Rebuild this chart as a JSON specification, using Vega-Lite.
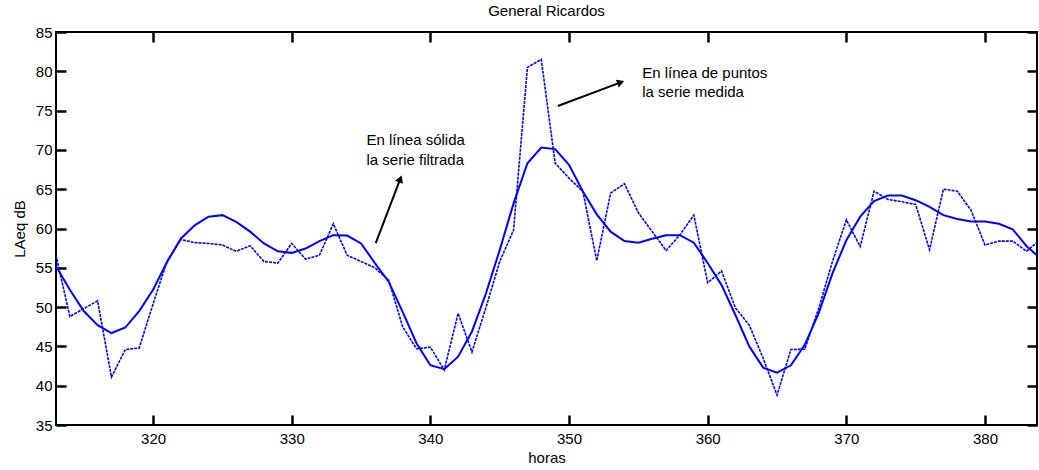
{
  "$schema": "https://vega.github.io/schema/vega-lite/v6.json",
  "width": 981,
  "height": 393,
  "autosize": {"type": "none"},
  "padding": {"left": 56, "top": 32, "right": 2, "bottom": 45},
  "background": "white",
  "title": {"text": "General Ricardos", "fontSize": 15, "fontWeight": "normal", "font": "Liberation Sans", "color": "black", "offset": 6},
  "config": {
    "font": "Liberation Sans",
    "view": {"stroke": "black", "strokeWidth": 2},
    "axis": {
      "domain": false,
      "grid": false,
      "labelFont": "Liberation Sans",
      "labelFontSize": 15,
      "labelColor": "black",
      "titleFont": "Liberation Sans",
      "titleFontSize": 15,
      "titleFontWeight": "normal",
      "titleColor": "black",
      "tickColor": "black",
      "tickWidth": 2.5,
      "tickSize": -10
    }
  },
  "datasets": {
    "series": [
      {"h": 313, "medida": 56.6, "filtrada": 55.2},
      {"h": 314, "medida": 48.8, "filtrada": 52.2},
      {"h": 315, "medida": 49.8, "filtrada": 49.5},
      {"h": 316, "medida": 50.8, "filtrada": 47.7},
      {"h": 317, "medida": 41.1, "filtrada": 46.7},
      {"h": 318, "medida": 44.6, "filtrada": 47.4},
      {"h": 319, "medida": 44.8, "filtrada": 49.5},
      {"h": 320, "medida": 50.4, "filtrada": 52.2},
      {"h": 321, "medida": 55.8, "filtrada": 55.7},
      {"h": 322, "medida": 58.6, "filtrada": 58.7},
      {"h": 323, "medida": 58.2, "filtrada": 60.4},
      {"h": 324, "medida": 58.1, "filtrada": 61.5},
      {"h": 325, "medida": 57.9, "filtrada": 61.7},
      {"h": 326, "medida": 57.1, "filtrada": 60.85},
      {"h": 327, "medida": 57.8, "filtrada": 59.6},
      {"h": 328, "medida": 55.8, "filtrada": 58.1},
      {"h": 329, "medida": 55.6, "filtrada": 57.1},
      {"h": 330, "medida": 58.1, "filtrada": 56.9},
      {"h": 331, "medida": 56.1, "filtrada": 57.45},
      {"h": 332, "medida": 56.6, "filtrada": 58.4},
      {"h": 333, "medida": 60.6, "filtrada": 59.15},
      {"h": 334, "medida": 56.6, "filtrada": 59.1},
      {"h": 335, "medida": 55.8, "filtrada": 58.1},
      {"h": 336, "medida": 55.0, "filtrada": 55.6},
      {"h": 337, "medida": 53.4, "filtrada": 53.2},
      {"h": 338, "medida": 47.5, "filtrada": 49.4},
      {"h": 339, "medida": 44.7, "filtrada": 45.4},
      {"h": 340, "medida": 44.9, "filtrada": 42.6},
      {"h": 341, "medida": 42.0, "filtrada": 42.1},
      {"h": 342, "medida": 49.2, "filtrada": 43.7},
      {"h": 343, "medida": 44.3, "filtrada": 46.9},
      {"h": 344, "medida": 49.9, "filtrada": 51.7},
      {"h": 345, "medida": 55.8, "filtrada": 57.25},
      {"h": 346, "medida": 59.8, "filtrada": 63.2},
      {"h": 347, "medida": 80.5, "filtrada": 68.3},
      {"h": 348, "medida": 81.5, "filtrada": 70.3},
      {"h": 349, "medida": 68.3, "filtrada": 70.1},
      {"h": 350, "medida": 66.4, "filtrada": 68.1},
      {"h": 351, "medida": 64.7, "filtrada": 64.7},
      {"h": 352, "medida": 55.9, "filtrada": 61.8},
      {"h": 353, "medida": 64.5, "filtrada": 59.6},
      {"h": 354, "medida": 65.7, "filtrada": 58.4},
      {"h": 355, "medida": 62.0, "filtrada": 58.2},
      {"h": 356, "medida": 59.6, "filtrada": 58.7},
      {"h": 357, "medida": 57.2, "filtrada": 59.15},
      {"h": 358, "medida": 59.2, "filtrada": 59.15},
      {"h": 359, "medida": 61.7, "filtrada": 58.2},
      {"h": 360, "medida": 53.1, "filtrada": 55.6},
      {"h": 361, "medida": 54.6, "filtrada": 52.8},
      {"h": 362, "medida": 49.9, "filtrada": 49.0},
      {"h": 363, "medida": 47.7, "filtrada": 45.0},
      {"h": 364, "medida": 43.5, "filtrada": 42.3},
      {"h": 365, "medida": 38.8, "filtrada": 41.65},
      {"h": 366, "medida": 44.6, "filtrada": 42.6},
      {"h": 367, "medida": 44.65, "filtrada": 45.2},
      {"h": 368, "medida": 49.8, "filtrada": 49.2},
      {"h": 369, "medida": 55.8, "filtrada": 54.3},
      {"h": 370, "medida": 61.1, "filtrada": 58.5},
      {"h": 371, "medida": 57.7, "filtrada": 61.5},
      {"h": 372, "medida": 64.75, "filtrada": 63.5},
      {"h": 373, "medida": 63.7, "filtrada": 64.2},
      {"h": 374, "medida": 63.4, "filtrada": 64.2},
      {"h": 375, "medida": 63.05, "filtrada": 63.6},
      {"h": 376, "medida": 57.3, "filtrada": 62.75},
      {"h": 377, "medida": 65.0, "filtrada": 61.7},
      {"h": 378, "medida": 64.75, "filtrada": 61.2},
      {"h": 379, "medida": 62.3, "filtrada": 60.9},
      {"h": 380, "medida": 57.9, "filtrada": 60.9},
      {"h": 381, "medida": 58.4, "filtrada": 60.6},
      {"h": 382, "medida": 58.4, "filtrada": 59.9},
      {"h": 383, "medida": 57.1, "filtrada": 57.75},
      {"h": 384, "medida": 58.6, "filtrada": 56.2}
    ],
    "labels": [
      {"x": 335.39, "y": 71.23, "t": "En línea sólida"},
      {"x": 335.39, "y": 68.69, "t": "la serie filtrada"},
      {"x": 355.28, "y": 79.75, "t": "En línea de puntos"},
      {"x": 355.28, "y": 77.37, "t": "la serie medida"}
    ]
  },
  "resolve": {"axis": {"x": "independent", "y": "independent"}},
  "layer": [
    {
      "data": {"name": "series"},
      "mark": {"type": "line", "color": "#0000ff", "strokeWidth": 1.6, "strokeDash": [3, 1], "clip": true},
      "encoding": {
        "x": {"field": "h", "type": "quantitative", "scale": {"domain": [313, 383.75], "nice": false, "zero": false},
              "axis": {"orient": "bottom", "title": "horas", "values": [320, 330, 340, 350, 360, 370, 380], "labelPadding": 16, "titlePadding": 4}},
        "y": {"field": "medida", "type": "quantitative", "scale": {"domain": [35, 85], "nice": false, "zero": false},
              "axis": {"orient": "left", "title": "LAeq dB", "values": [35, 40, 45, 50, 55, 60, 65, 70, 75, 80, 85], "labelPadding": 14, "titlePadding": 8}}
      }
    },
    {
      "data": {"name": "series"},
      "mark": {"type": "line", "color": "#0000ff", "strokeWidth": 2, "clip": true},
      "encoding": {
        "x": {"field": "h", "type": "quantitative",
              "axis": {"orient": "top", "title": null, "labels": false, "values": [320, 330, 340, 350, 360, 370, 380]}},
        "y": {"field": "filtrada", "type": "quantitative",
              "axis": {"orient": "right", "title": null, "labels": false, "values": [35, 40, 45, 50, 55, 60, 65, 70, 75, 80, 85]}}
      }
    },
    {
      "data": {"name": "labels"},
      "mark": {"type": "text", "align": "left", "baseline": "middle", "fontSize": 15, "font": "Liberation Sans", "color": "black"},
      "encoding": {
        "x": {"field": "x", "type": "quantitative", "axis": null},
        "y": {"field": "y", "type": "quantitative", "axis": null},
        "text": {"field": "t"}
      }
    },
    {
      "data": {"values": [{"x": 336.06, "y": 58.14, "x2": 337.83, "y2": 66.31}]},
      "mark": {"type": "rule", "color": "black", "strokeWidth": 2},
      "encoding": {
        "x": {"field": "x", "type": "quantitative", "axis": null},
        "y": {"field": "y", "type": "quantitative", "axis": null},
        "x2": {"field": "x2"},
        "y2": {"field": "y2"}
      }
    },
    {
      "data": {"values": [{"x": 349.19, "y": 75.59, "x2": 353.73, "y2": 78.59}]},
      "mark": {"type": "rule", "color": "black", "strokeWidth": 2},
      "encoding": {
        "x": {"field": "x", "type": "quantitative", "axis": null},
        "y": {"field": "y", "type": "quantitative", "axis": null},
        "x2": {"field": "x2"},
        "y2": {"field": "y2"}
      }
    },
    {
      "data": {"values": [{"x": 337.83, "y": 66.31}]},
      "mark": {"type": "point", "shape": "triangle-up", "filled": true, "color": "black", "opacity": 1, "size": 70, "angle": 21},
      "encoding": {
        "x": {"field": "x", "type": "quantitative", "axis": null},
        "y": {"field": "y", "type": "quantitative", "axis": null}
      }
    },
    {
      "data": {"values": [{"x": 353.73, "y": 78.59}]},
      "mark": {"type": "point", "shape": "triangle-up", "filled": true, "color": "black", "opacity": 1, "size": 70, "angle": 69.5},
      "encoding": {
        "x": {"field": "x", "type": "quantitative", "axis": null},
        "y": {"field": "y", "type": "quantitative", "axis": null}
      }
    }
  ]
}
